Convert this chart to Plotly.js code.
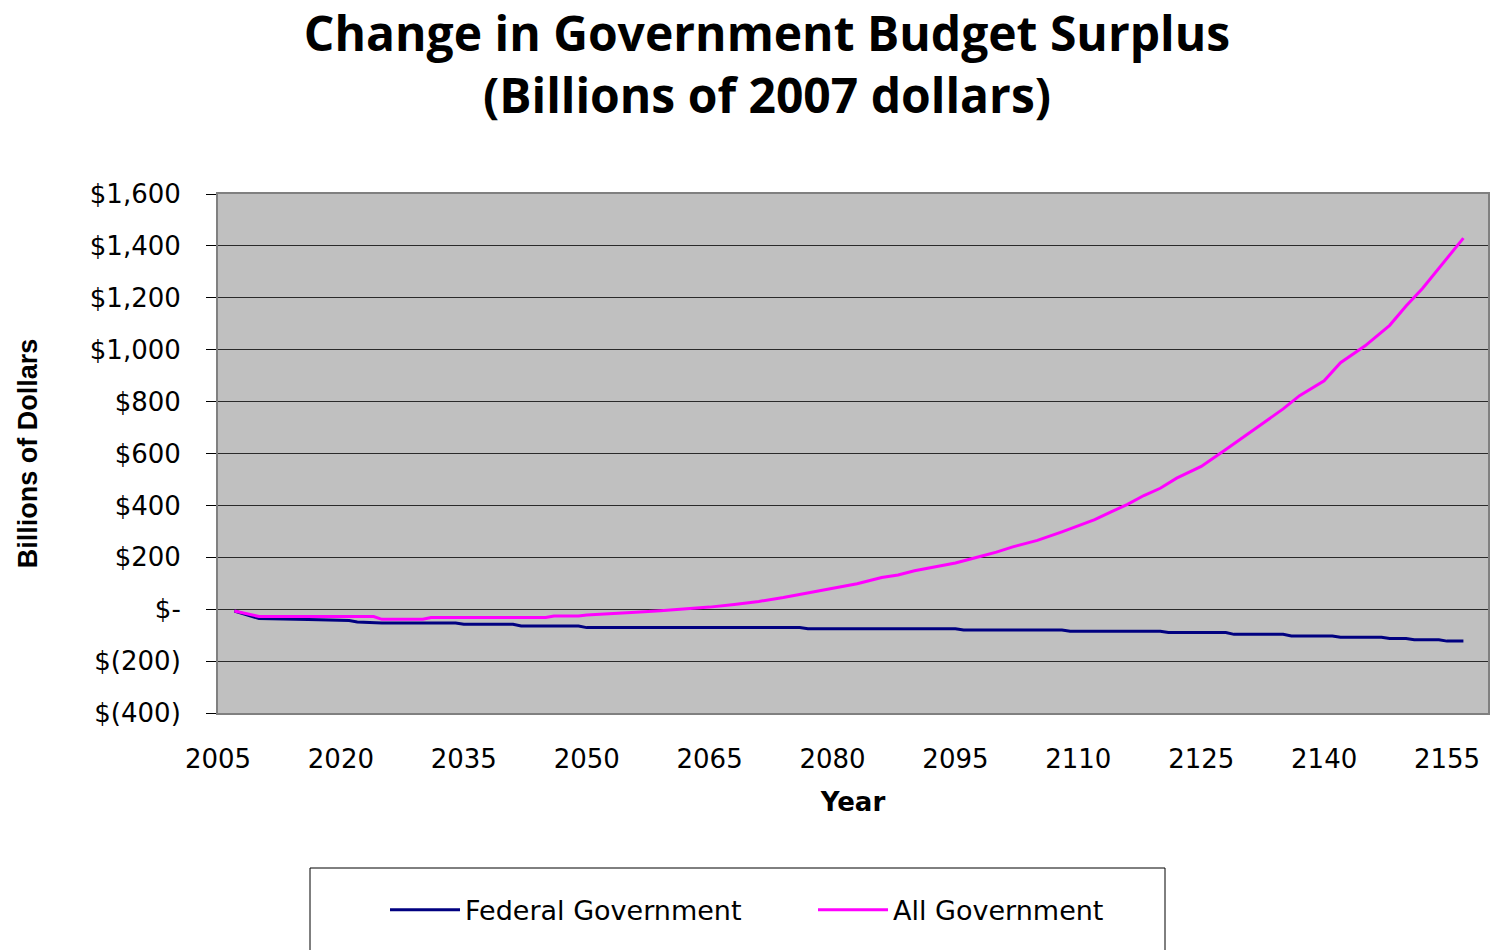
<!DOCTYPE html>
<html>
<head>
<meta charset="utf-8">
<script src="https://cdn.plot.ly/plotly-3.0.1.min.js"></script>
<style>html,body{margin:0;padding:0;background:#fff;}#chart{width:1493px;height:950px;}</style>
</head>
<body>
<div id="chart"></div>
<script>
// Federal Government (step-like series)
const fedYears = [2007, 2010, 2016, 2021, 2022, 2025, 2034, 2035, 2041, 2042, 2049, 2050, 2076, 2077, 2095, 2096, 2108, 2109, 2120, 2121, 2128, 2129, 2135, 2136, 2141, 2142, 2147, 2148, 2150, 2151, 2154, 2155, 2157];
const fedValues = [-7, -36, -40, -44, -49, -53, -53, -58, -58, -65, -65, -71, -71, -75, -75, -80, -80, -85, -85, -90, -90, -97, -97, -103, -103, -108, -108, -113, -113, -118, -118, -123, -123];

// All Government
const allYears = [2007, 2010, 2015, 2020, 2024, 2025, 2030, 2031, 2040, 2045, 2046, 2049, 2050, 2053, 2056, 2059, 2062, 2065, 2068, 2071, 2074, 2077, 2080, 2083, 2086, 2088, 2090, 2092, 2095, 2098, 2100, 2102, 2105, 2108, 2110, 2112, 2114, 2116, 2118, 2120, 2122, 2125, 2128, 2130, 2133, 2135, 2137, 2140, 2142, 2145, 2148, 2150, 2152, 2155, 2157];
const allValues = [-7, -28, -28, -28, -28, -39, -39, -32, -32, -32, -26, -26, -22, -18, -12, -6, 0, 8, 18, 30, 45, 63, 80, 98, 122, 132, 148, 160, 178, 203, 220, 240, 265, 298, 320, 345, 375, 404, 438, 466, 505, 550, 615, 660, 727, 772, 823, 880, 950, 1015, 1094, 1168, 1236, 1355, 1430];

const yTickVals = [-400, -200, 0, 200, 400, 600, 800, 1000, 1200, 1400, 1600];
const yTickText = ['$(400)', '$(200)', '$-', '$200', '$400', '$600', '$800', '$1,000', '$1,200', '$1,400', '$1,600'];
const xTickVals = [2005, 2020, 2035, 2050, 2065, 2080, 2095, 2110, 2125, 2140, 2155];

const traces = [
  {x: fedYears, y: fedValues, type: 'scatter', mode: 'lines', name: 'Federal Government',
   line: {color: '#000080', width: 3}},
  {x: allYears, y: allValues, type: 'scatter', mode: 'lines', name: 'All Government',
   line: {color: '#FF00FF', width: 3}}
];

const layout = {
  width: 1493, height: 950,
  paper_bgcolor: '#ffffff',
  plot_bgcolor: '#C0C0C0',
  margin: {l: 218, r: 5, t: 194, b: 237},
  title: {
    text: '<b>Change in Government Budget Surplus<br>(Billions of 2007 dollars)</b>',
    font: {family: '"Open Sans", Lato, sans-serif', size: 48, color: '#000'},
    x: 767 / 1493, xref: 'container', xanchor: 'center',
    y: 1 - 51 / 950, yref: 'container', yanchor: 'top'
  },
  xaxis: {
    range: [2005, 2160],
    tickmode: 'array', tickvals: xTickVals,
    ticks: '', showgrid: false, zeroline: false,
    showline: true, linecolor: '#808080', linewidth: 2, mirror: true,
    tickfont: {family: 'DejaVu Sans', size: 26, color: '#000'},
    ticklabelstandoff: 22,
    title: {text: '<b>Year</b>', font: {family: 'DejaVu Sans', size: 26, color: '#000'}, standoff: 20}
  },
  yaxis: {
    range: [-400, 1600],
    tickmode: 'array', tickvals: yTickVals, ticktext: yTickText,
    ticks: 'outside', ticklen: 10, tickcolor: '#000', tickwidth: 1,
    showgrid: true, gridcolor: '#2a2a2a', gridwidth: 1,
    zeroline: true, zerolinecolor: '#2a2a2a', zerolinewidth: 1,
    showline: true, linecolor: '#808080', linewidth: 2, mirror: true,
    tickfont: {family: 'DejaVu Sans', size: 26, color: '#000'},
    ticklabelstandoff: 20,
    title: {text: '<b>Billions of Dollars</b>', font: {family: '"Liberation Sans", Arial, sans-serif', size: 27, color: '#000'}, standoff: 44}
  },
  showlegend: true,
  legend: {
    orientation: 'h',
    x: 0.1315, xanchor: 'left',
    y: -0.38, yanchor: 'middle',
    bgcolor: 'rgba(0,0,0,0)', borderwidth: 0,
    font: {family: 'DejaVu Sans', size: 27, color: '#000'},
    entrywidth: 343, entrywidthmode: 'pixels',
    itemwidth: 70
  },
  shapes: [
    {type: 'rect', xref: 'paper', yref: 'paper',
     x0: 92 / 1270, x1: 947 / 1270, y0: -247 / 519, y1: -155 / 519,
     line: {color: '#000', width: 1}, fillcolor: 'rgba(0,0,0,0)', layer: 'below'}
  ]
};

Plotly.newPlot('chart', traces, layout, {displayModeBar: false, staticPlot: true});
</script>
</body>
</html>
